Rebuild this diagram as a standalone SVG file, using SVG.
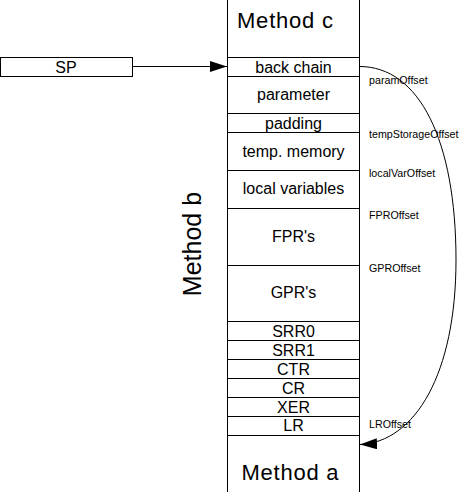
<svg xmlns="http://www.w3.org/2000/svg" width="469" height="492" viewBox="0 0 469 492">
<style>
  .box { fill: #ffffff; stroke: #000000; stroke-width: 1; }
  .lbl { font-family: "Liberation Sans", Arial, sans-serif; font-size: 16px; fill: #000000; text-anchor: middle; }
  .big { font-family: "Liberation Sans", Arial, sans-serif; font-size: 22px; fill: #000000; }
  .off { font-family: "Liberation Sans", Arial, sans-serif; font-size: 10.7px; fill: #000000; }
  .conn { fill: none; stroke: #000000; stroke-width: 1; }
</style>
<defs>
  <marker id="arrow" markerUnits="userSpaceOnUse" markerWidth="18" markerHeight="12" refX="17" refY="5.5" orient="auto">
    <path d="M0,0 L17,5.5 L0,11 Z" fill="#000000"/>
  </marker>
</defs>
<rect x="0" y="0" width="469" height="492" fill="#ffffff"/>

<g id="method-c"><rect class="box" x="227.5" y="-1" width="132" height="58.5"/><text class="big" x="237" y="28" textLength="96" lengthAdjust="spacing">Method c</text></g>
<g id="back-chain"><rect class="box" x="227.5" y="57.5" width="132" height="19"/><text class="lbl" x="293.5" y="72.5">back chain</text></g>
<g id="parameter"><rect class="box" x="227.5" y="76.5" width="132" height="37"/><text class="lbl" x="293.5" y="100">parameter</text></g>
<g id="padding"><rect class="box" x="227.5" y="113.5" width="132" height="19"/><text class="lbl" x="293.5" y="128.5">padding</text></g>
<g id="temp-memory"><rect class="box" x="227.5" y="132.5" width="132" height="38"/><text class="lbl" x="293.5" y="157">temp. memory</text></g>
<g id="local-variables"><rect class="box" x="227.5" y="170.5" width="132" height="38"/><text class="lbl" x="293.5" y="194">local variables</text></g>
<g id="fprs"><rect class="box" x="227.5" y="208.5" width="132" height="57"/><text class="lbl" x="293.5" y="242">FPR's</text></g>
<g id="gprs"><rect class="box" x="227.5" y="265.5" width="132" height="56"/><text class="lbl" x="293.5" y="297.5">GPR's</text></g>
<g id="srr0"><rect class="box" x="227.5" y="321.5" width="132" height="19"/><text class="lbl" x="293.5" y="336.5">SRR0</text></g>
<g id="srr1"><rect class="box" x="227.5" y="340.5" width="132" height="19"/><text class="lbl" x="293.5" y="355.5">SRR1</text></g>
<g id="ctr"><rect class="box" x="227.5" y="359.5" width="132" height="19"/><text class="lbl" x="293.5" y="374.5">CTR</text></g>
<g id="cr"><rect class="box" x="227.5" y="378.5" width="132" height="19"/><text class="lbl" x="293.5" y="393.5">CR</text></g>
<g id="xer"><rect class="box" x="227.5" y="397.5" width="132" height="19"/><text class="lbl" x="293.5" y="412.5">XER</text></g>
<g id="lr"><rect class="box" x="227.5" y="416.5" width="132" height="19"/><text class="lbl" x="293.5" y="431">LR</text></g>
<g id="method-a"><rect class="box" x="227.5" y="435.5" width="132" height="60"/><text class="big" x="241.5" y="480" textLength="97" lengthAdjust="spacing">Method a</text></g>

<g id="method-b"><text class="big" style="font-size:25px" text-anchor="middle" transform="translate(201,244) rotate(-90)">Method b</text></g>

<g id="sp"><rect class="box" x="0.5" y="57.5" width="132" height="19"/><text class="lbl" x="66" y="72.5">SP</text></g>

<g id="offsets">
  <text class="off" x="369" y="84">paramOffset</text>
  <text class="off" x="369" y="138">tempStorageOffset</text>
  <text class="off" x="369" y="177">localVarOffset</text>
  <text class="off" x="369" y="219">FPROffset</text>
  <text class="off" x="369" y="272">GPROffset</text>
  <text class="off" x="369" y="428">LROffset</text>
</g>

<g id="connectors">
  <line class="conn" x1="132.5" y1="66.5" x2="227" y2="66.5" marker-end="url(#arrow)"/>
  <path class="conn" d="M359.5,66.5 C419,66.5 456,140 456,260 C456,374 415,442 360,444.5" marker-end="url(#arrow)"/>
</g>
</svg>
